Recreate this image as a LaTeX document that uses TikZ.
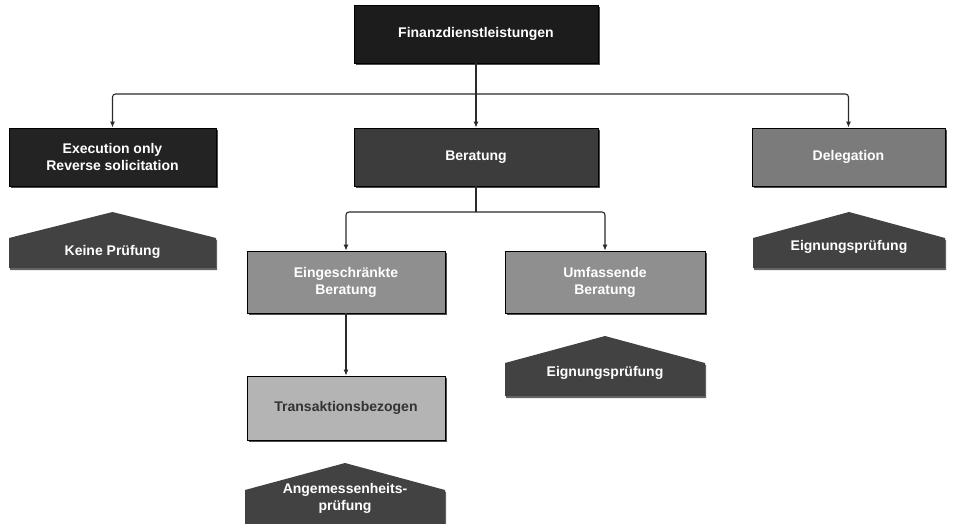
\documentclass[tikz,border=0pt]{standalone}
\usepackage{fontspec}
\setmainfont{Liberation Sans}
\usetikzlibrary{shadows,arrows.meta}
\definecolor{cTop}{HTML}{1C1C1C}
\definecolor{cExe}{HTML}{232323}
\definecolor{cBer}{HTML}{3C3C3C}
\definecolor{cDel}{HTML}{7B7B7B}
\definecolor{cMid}{HTML}{8F8F8F}
\definecolor{cTra}{HTML}{B4B4B4}
\definecolor{cPen}{HTML}{424242}
\definecolor{cLine}{HTML}{2A2A2A}
\tikzset{
  boxnode/.style={draw=black, line width=0.8pt, rectangle, align=center,
    text=white, font=\fontsize{14}{17}\selectfont\bfseries,
    drop shadow={shadow xshift=1.5pt, shadow yshift=-2pt, fill=black!70, opacity=1},
    inner sep=0pt},
  pentshape/.style={fill=cPen, drop shadow={shadow xshift=1pt, shadow yshift=-2pt, fill=black!60, opacity=1}},
  penttext/.style={text=white, align=center, font=\fontsize{14}{17}\selectfont\bfseries},
  conn/.style={draw=cLine, line width=1.1pt, rounded corners=3pt},
  arr/.style={conn, -{Latex[length=6pt,width=5pt]}}
}
\begin{document}
\begin{tikzpicture}[x=1pt,y=-1pt]
\useasboundingbox (0,0) rectangle (954,523);
% boxes
\node[boxnode, fill=cTop, minimum width=244pt, minimum height=58pt] (fin) at (476,34) {Finanzdienstleistungen};
\node[boxnode, fill=cExe, minimum width=207pt, minimum height=58pt] (exe) at (112.5,157) {Execution only\\Reverse solicitation};
\node[boxnode, fill=cBer, minimum width=244pt, minimum height=58pt] (ber) at (476,157) {Beratung};
\node[boxnode, fill=cDel, minimum width=193pt, minimum height=58pt] (del) at (848.5,157) {Delegation};
\node[boxnode, fill=cMid, minimum width=198pt, minimum height=62pt] (ein) at (346,282) {Eingeschränkte\\Beratung};
\node[boxnode, fill=cMid, minimum width=200pt, minimum height=62pt] (umf) at (605,282) {Umfassende\\Beratung};
\node[boxnode, fill=cTra, text=black!80, minimum width=198pt, minimum height=64pt] (tra) at (346,408) {Transaktionsbezogen};
% connectors
\coordinate (j1) at (476,94);
\coordinate (j2) at (476,212);
\draw[conn] (fin.south) -- (j1);
\draw[arr] (j1) -| (exe.north);
\draw[arr] (j1) -- (ber.north);
\draw[arr] (j1) -| (del.north);
\draw[conn] (ber.south) -- (j2);
\draw[arr] (j2) -| (ein.north);
\draw[arr] (j2) -| (umf.north);
\draw[arr] (ein.south) -- (tra.north);
% pentagons
\path[pentshape] (9,268) -- (9,238) -- (112.5,212) -- (216,238) -- (216,268) -- cycle;
\node[penttext] (p1) at (112.5,252) {Keine Prüfung};
\path[pentshape] (753,268) -- (753,238) -- (849,212) -- (945,238) -- (945,268) -- cycle;
\node[penttext] (p2) at (849,247) {Eignungsprüfung};
\path[pentshape] (505,396) -- (505,363) -- (605,336) -- (705,363) -- (705,396) -- cycle;
\node[penttext] (p3) at (605,373) {Eignungsprüfung};
\path[pentshape] (245,530) -- (245,490) -- (345,463) -- (445,490) -- (445,530) -- cycle;
\node[penttext] (p4) at (345,498) {Angemessenheits-\\prüfung};
\end{tikzpicture}
\end{document}
